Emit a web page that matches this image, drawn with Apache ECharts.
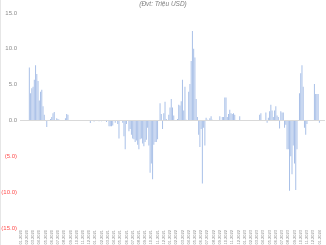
<!DOCTYPE html>
<html><head><meta charset="utf-8">
<script src="https://cdn.jsdelivr.net/npm/echarts@6/dist/echarts.min.js"></script>
<style>html,body{margin:0;padding:0;background:#fff}#c{width:326px;height:245px}</style>
</head><body><div id="c"></div>
<script>
const unitNote = '(Đvt: Triệu USD)';
const monthLabels = ['01.2020','02.2020','03.2020','04.2020','05.2020','06.2020','07.2020','08.2020','09.2020','10.2020','11.2020','12.2020',
'01.2021','02.2021','03.2021','04.2021','05.2021','06.2021','07.2021','08.2021','09.2021','10.2021','11.2021','12.2021',
'01.2022','02.2022','03.2022','04.2022','05.2022','06.2022','07.2022','08.2022','09.2022','10.2022','11.2022','12.2022',
'01.2023','02.2023','03.2023','04.2023','05.2023','06.2023','07.2023','08.2023','09.2023','10.2023','11.2023','12.2023',
'01.2024'];
const weeksPerLabel = 5;
const flows = [
0,0,0,0,0,0,0,7.4,3.8,4.5,
4.7,5.7,7.7,6.5,5.5,2.8,4.0,4.3,2.0,0.8,
0,-0.9,0,0,0.2,0.5,1.0,1.2,0,0.3,
0.2,0.1,0,0,0,0,0.3,0.9,0.8,0,
0,0,0,0,0,0,0,0,0,0,
0,0,0,0,0,0,-0.35,0,0,-0.15,
0,0,0,-0.1,0,-0.1,0,0,0,-0.2,
0,-0.8,-0.8,-0.8,-0.7,0,-0.3,0,-0.5,-2.5,
0,0,-0.3,-2.2,-4.0,-0.5,0,-1.5,-1.2,-2.0,
-2.5,-2.6,-3.0,-2.8,-3.4,-4.0,-2.6,-2.5,-3.2,-3.6,
-3.0,-2.7,-1.0,-3.5,-7.3,-6.0,-8.2,-3.4,-3.0,-3.0,
-2.6,0,2.4,0.9,-1.2,1.0,2.6,0.2,0,0.8,
1.8,3.0,1.8,0.7,0,0,0.2,2.2,2.1,2.7,
5.7,1.4,4.7,0.1,0,4.0,5.1,8.3,12.5,10.0,
8.8,3.0,0.5,-2.0,-3.7,-1.2,-8.8,-1.0,-3.5,0.4,
0.1,0,0.3,0.6,0.1,0,0,0,0,0,
0.6,0,0.5,0.5,3.2,3.2,0.5,0.9,1.5,1.0,
0.9,1.0,0.8,0,0,0,0.6,0,0,0,
0,0,0,0,0,0,0,0,0,0,
0,0,0.8,1.0,0,0,0,1.1,-0.3,0.4,
1.3,2.2,1.4,0.5,1.4,2.0,0.7,0.5,-1.1,1.3,
1.1,1.1,-1.0,-0.6,-4.0,-4.0,-9.8,-5.0,-7.5,-3.5,
-6.0,-9.7,-4.0,0,3.8,6.6,7.7,4.7,-1.0,-2.0,
-0.5,0,0,0,0,0,5.1,3.7,3.7,3.7,
-0.3,0,0,0,0
];
const categories = flows.map((v, i) => monthLabels[Math.floor(i / weeksPerLabel)] + '#' + (i % weeksPerLabel));

const chart = echarts.init(document.getElementById('c'), null, {renderer: 'canvas'});
chart.setOption({
  animation: false,
  title: {text: unitNote, left: 'center', top: 1, padding: 0,
    textStyle: {fontSize: 6.5, fontStyle: 'italic', fontWeight: 'normal', color: '#7f7f7f', fontFamily: 'Liberation Sans'}},
  grid: {left: 20, right: 1, top: 13, bottom: 17, outerBoundsMode: 'none', containLabel: false},
  graphic: [{type: 'line', shape: {x1: 0.5, y1: 0, x2: 0.5, y2: 245}, style: {stroke: '#e6e6e6', lineWidth: 1}}],
  xAxis: {
    type: 'category', data: categories,
    axisLine: {show: false}, axisTick: {show: false},
    axisLabel: {interval: weeksPerLabel - 1, rotate: 90, fontSize: 4, color: '#8c8c8c', margin: 2,
      fontFamily: 'Liberation Sans', formatter: v => v.split('#')[0]}
  },
  yAxis: {
    type: 'value', min: -15, max: 15, interval: 5,
    splitLine: {show: false}, axisLine: {show: false}, axisTick: {show: false},
    axisLabel: {fontSize: 6, margin: 3, fontFamily: 'Liberation Sans',
      formatter: v => v < 0 ? '{n|(' + Math.abs(v).toFixed(1) + ')}' : '{p|' + v.toFixed(1) + '}',
      rich: {n: {color: '#ff4d4d', fontSize: 6}, p: {color: '#8c8c8c', fontSize: 6}}}
  },
  series: [{
    type: 'bar', data: flows, barWidth: '80%',
    itemStyle: {color: '#a9c0e8'},
    markLine: {silent: true, symbol: 'none', label: {show: false},
      lineStyle: {color: '#d9d9d9', type: 'solid', width: 1},
      data: [{yAxis: 0}]}
  }]
});
</script></body></html>
